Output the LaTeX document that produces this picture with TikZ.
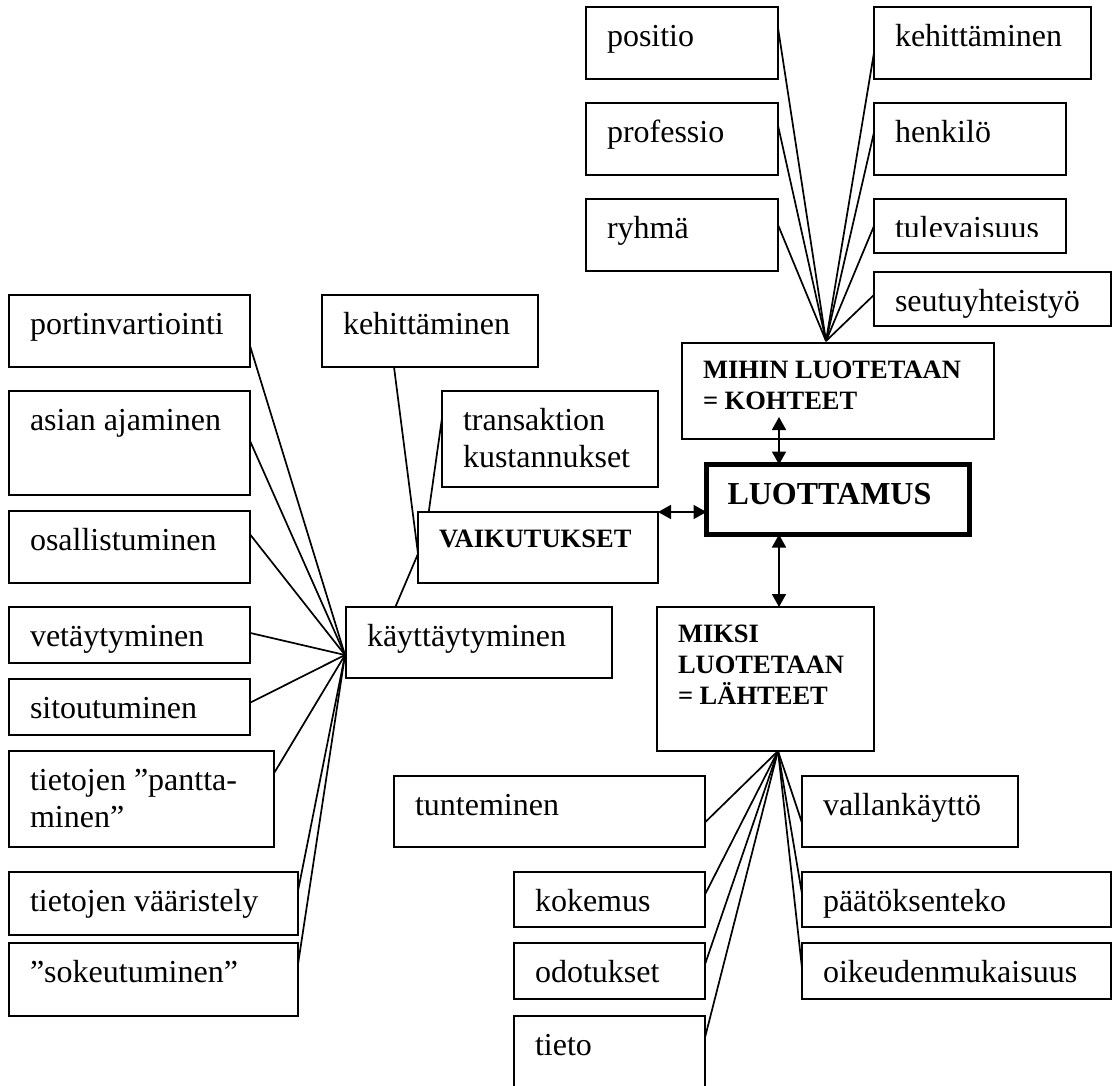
\documentclass[tikz,border=0pt]{standalone}
\usepackage{fontspec}
\setmainfont{Liberation Serif}
\usetikzlibrary{arrows.meta}

% box text: width, height (pt), top-left aligned
\newcommand{\boxtxt}[3]{\parbox[t][\dimexpr#2pt-28pt\relax][t]{\dimexpr#1pt-42pt\relax}{\raggedright\strut#3}}

\begin{document}
\begin{tikzpicture}[x=1pt,y=-1pt,>={Triangle[length=13pt,width=14pt]}]
\tikzstyle{box} = [draw, rectangle, line width=1.7pt, inner xsep=21pt, inner ysep=14pt, outer sep=0pt, anchor=north west, font=\fontsize{32pt}{37pt}\selectfont]
\tikzstyle{head} = [box, font=\fontsize{26.5pt}{31pt}\selectfont\bfseries]
\tikzstyle{link} = [line width=1.7pt]

\useasboundingbox (0,0) rectangle (1113,1086);
\clip (0,0) rectangle (1113,1086);

% kohteet
\node [box] (positio) at (586,7) {\boxtxt{192}{72}{positio}};
\node [box] (professio) at (586,103) {\boxtxt{192}{72}{professio}};
\node [box] (ryhmae) at (586,199) {\boxtxt{192}{72}{ryhmä}};
\node [box] (kehittaminenA) at (874,7) {\boxtxt{217}{72}{kehittäminen}};
\node [box] (henkiloe) at (874,103) {\boxtxt{192}{72}{henkilö}};
\begin{scope}
\clip (870,195) rectangle (1070,236);
\node [box, draw=none] (tulevaisuus) at (874,199) {\boxtxt{192}{48}{tulevaisuus}};
\end{scope}
\draw [link] (tulevaisuus.north west) rectangle (tulevaisuus.south east);
\node [box] (seutu) at (874,272) {\boxtxt{237}{54}{seutuyhteistyö}};
\node [head] (mihin) at (682,343) {\boxtxt{312}{96}{MIHIN LUOTETAAN\\= KOHTEET}};

% keskus
\node [box, line width=5pt, font=\fontsize{32pt}{37pt}\selectfont\bfseries] (luottamus) at (706.5,464.5) {\boxtxt{263}{70}{LUOTTAMUS}};
\node [head] (vaik) at (418,512) {\boxtxt{240}{71}{VAIKUTUKSET}};
\node [box] (transaktion) at (442,391) {\boxtxt{216}{96}{transaktion\\kustannukset}};
\node [box] (kehittaminenB) at (322,295) {\boxtxt{216}{72}{kehittäminen}};
\node [box] (kayttaytyminen) at (346,607) {\boxtxt{266}{71}{käyttäytyminen}};

% käyttäytyminen
\node [box] (portinvartiointi) at (9,295) {\boxtxt{241}{72}{portinvartiointi}};
\node [box] (asian) at (9,391) {\boxtxt{241}{104}{asian ajaminen}};
\node [box] (osallistuminen) at (9,511) {\boxtxt{241}{72}{osallistuminen}};
\node [box] (vetaytyminen) at (9,607) {\boxtxt{241}{56}{vetäytyminen}};
\node [box] (sitoutuminen) at (9,679) {\boxtxt{241}{56}{sitoutuminen}};
\node [box] (panttaminen) at (9,751) {\boxtxt{265}{96}{tietojen ”pantta-\\minen”}};
\node [box] (vaaristely) at (9,872) {\boxtxt{289}{63}{tietojen vääristely}};
\node [box] (sokeutuminen) at (9,943) {\boxtxt{289}{73}{”sokeutuminen”}};

% lähteet
\node [head] (miksi) at (657,607) {\boxtxt{217}{144}{MIKSI\\LUOTETAAN\\= LÄHTEET}};
\node [box] (tunteminen) at (394,776) {\boxtxt{311}{71}{tunteminen}};
\node [box] (kokemus) at (514,872) {\boxtxt{191}{55}{kokemus}};
\node [box] (odotukset) at (514,943) {\boxtxt{191}{56}{odotukset}};
\node [box] (tieto) at (514,1016) {\boxtxt{191}{80}{tieto}};
\node [box] (vallankaytto) at (802,776) {\boxtxt{216}{71}{vallankäyttö}};
\node [box] (paatoksenteko) at (802,872) {\boxtxt{309}{55}{päätöksenteko}};
\node [box] (oikeudenmukaisuus) at (802,943) {\boxtxt{309}{56}{oikeudenmukaisuus}};

\coordinate (hubK) at (826,341);
\coordinate (hubB) at (345,655);
\coordinate (hubL) at (778,751);
\coordinate (tipK) at (779,417);

\draw [link] (positio.9) -- (hubK);
\draw [link] (professio.8) -- (hubK);
\draw [link] (ryhmae.6) -- (hubK);
\draw [link] (kehittaminenA.185) -- (hubK);
\draw [link] (henkiloe.176) -- (hubK);
\draw [link] (tulevaisuus.180) -- (hubK);
\draw [link] (seutu.178) -- (hubK);

\draw [link, <->] (tipK) -- (tipK |- luottamus.north);
\draw [link, <->] (tipK |- luottamus.south) -- (tipK |- miksi.north);
\draw [link, <->] (vaik.north east) -- (vaik.north east -| luottamus.west);

\draw [link] (kehittaminenB.225) -- (vaik.183);
\draw [link] (transaktion.169) -- (vaik.162);
\draw [link] (kayttaytyminen.157) -- (vaik.183);

\draw [link] (portinvartiointi.353) -- (hubB);
\draw [link] (asian.1) -- (hubB);
\draw [link] (osallistuminen.6) -- (hubB);
\draw [link] (vetaytyminen.1) -- (hubB);
\draw [link] (sitoutuminen.2) -- (hubB);
\draw [link] (panttaminen.11) -- (hubB);
\draw [link] (vaaristely.5) -- (hubB);
\draw [link] (sokeutuminen.6) -- (hubB);

\draw [link] (tunteminen.356) -- (hubL);
\draw [link] (kokemus.3) -- (hubL);
\draw [link] (odotukset.4) -- (hubL);
\draw [link] (tieto.11) -- (hubL);
\draw [link] (vallankaytto.186) -- (hubL);
\draw [link] (paatoksenteko.178) -- (hubL);
\draw [link] (oikeudenmukaisuus.179) -- (hubL);
\end{tikzpicture}
\end{document}
